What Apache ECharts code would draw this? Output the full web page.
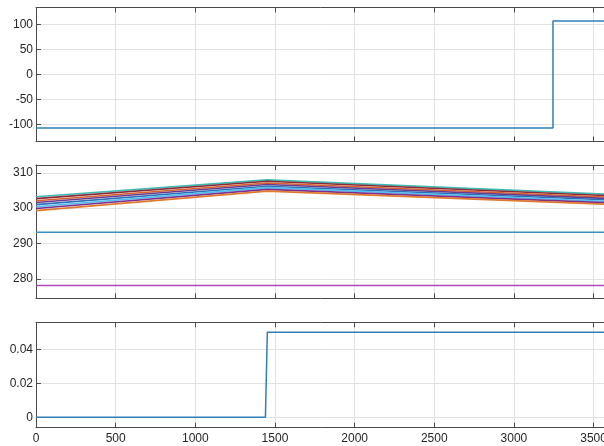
<!DOCTYPE html>
<html>
<head>
<meta charset="utf-8">
<script src="https://cdn.jsdelivr.net/npm/echarts@6/dist/echarts.min.js"></script>
<style>html,body{margin:0;padding:0;background:#fff}#c{width:604px;height:446px}</style>
</head>
<body>
<div id="c"></div>
<script>
// ---- data ----
const xMax = 3650;
const stepX = [0, 3245, 3245, 3650];
const stepY = [-107, -107, 107, 107];

const bundleX = [0, 1450, 3650];
const bundleA = [303.2, 308.0, 303.8];
const bundleB = [302.7, 307.6, 303.4];
const bundleC = [302.1, 307.1, 303.0];
const bundleD = [301.6, 306.7, 302.6];
const bundleE = [301.0, 306.2, 302.2];
const bundleF = [300.4, 305.8, 301.8];
const bundleG = [299.9, 305.3, 301.4];
const bundleH = [299.3, 304.8, 301.0];
const bundleColors = ['#3fbab3', '#8a2a3a', '#d9622b', '#6a3a8c', '#2f6fb8', '#4dbeee', '#7e2f8e', '#e07a2c'];

const refX = [0, 3650];
const ref293 = [293.2, 293.2];
const ref278 = [278.1, 278.1];

const pulseX = [0, 1440, 1452, 3650];
const pulseY = [0, 0, 0.05, 0.05];

const xTickLabels = ['0', '500', '1000', '1500', '2000', '2500', '3000', '3500'];

// ---- helpers ----
const pairs = (xs, ys) => xs.map((x, i) => [x, ys[i]]);
const axisColor = '#4a4a4a';
const gridColor = '#e2e2e2';
const font = 'Liberation Sans, Arial, Helvetica, sans-serif';

const grids = [
  { left: 36, width: 581.5, top: 7.5, height: 134, outerBoundsMode: 'none', containLabel: false },
  { left: 36, width: 581.5, top: 165, height: 133.3, outerBoundsMode: 'none', containLabel: false },
  { left: 36, width: 581.5, top: 322.3, height: 105.4, outerBoundsMode: 'none', containLabel: false }
];

function xAxes(gi, showLabels) {
  const base = {
    type: 'value', gridIndex: gi, min: 0, max: xMax, interval: 500,
    axisLine: { show: true, onZero: false, lineStyle: { color: axisColor, width: 1 } },
    axisTick: { show: true, inside: true, length: 5, lineStyle: { color: axisColor } },
    splitLine: { show: false }
  };
  return [
    Object.assign({}, base, {
      position: 'bottom',
      splitLine: { show: true, lineStyle: { color: gridColor, width: 1 } },
      axisLabel: {
        show: showLabels, color: '#262626', fontSize: 12, fontFamily: font, margin: 5,
        showMaxLabel: false, hideOverlap: false,
        formatter: v => (xTickLabels.indexOf(String(v)) >= 0) ? String(v) : ''
      }
    }),
    Object.assign({}, base, { position: 'top', axisLabel: { show: false } })
  ];
}

function yAxis(gi, min, max, split, step, fmt) {
  return {
    type: 'value', gridIndex: gi, min: min, max: max, splitNumber: split,
    axisLine: { show: true, onZero: false, lineStyle: { color: axisColor, width: 1 } },
    axisTick: { show: true, inside: true, length: 5, lineStyle: { color: axisColor } },
    splitLine: { show: true, lineStyle: { color: gridColor, width: 1 } },
    axisLabel: {
      color: '#262626', fontSize: 12, fontFamily: font, margin: 3,
      showMinLabel: false, showMaxLabel: false,
      formatter: v => {
        const r = Math.round(v / step);
        if (Math.abs(v - r * step) > step * 1e-6) return '';
        return fmt(r * step);
      }
    }
  };
}

function line(xi, yi, data, color, w) {
  return {
    type: 'line', xAxisIndex: xi, yAxisIndex: yi, data: data,
    showSymbol: false, symbol: 'none', clip: true,
    lineStyle: { color: color, width: w || 1.5 }, silent: true
  };
}

const bundles = [bundleA, bundleB, bundleC, bundleD, bundleE, bundleF, bundleG, bundleH];

const series = [
  line(0, 0, pairs(stepX, stepY), '#2f7fb8', 1.5),
  line(2, 1, pairs(refX, ref293), '#3a8fc4', 1.5),
  line(2, 1, pairs(refX, ref278), '#b348b3', 1.5)
];
bundles.forEach((b, i) => series.push(line(2, 1, pairs(bundleX, b), bundleColors[i], 1.6)));
series.push(line(4, 2, pairs(pulseX, pulseY), '#2f7fb8', 1.5));

const option = {
  animation: false,
  backgroundColor: '#ffffff',
  grid: grids,
  xAxis: [].concat(xAxes(0, false), xAxes(1, false), xAxes(2, true)),
  yAxis: [
    yAxis(0, -134, 134, 5, 50, v => String(v)),
    yAxis(1, 274.5, 312.2, 4, 10, v => String(v)),
    yAxis(2, -0.0061, 0.0559, 3, 0.02, v => v === 0 ? '0' : v.toFixed(2))
  ],
  series: series
};

const chart = echarts.init(document.getElementById('c'), null, { renderer: 'canvas' });
chart.setOption(option);
</script>
</body>
</html>
